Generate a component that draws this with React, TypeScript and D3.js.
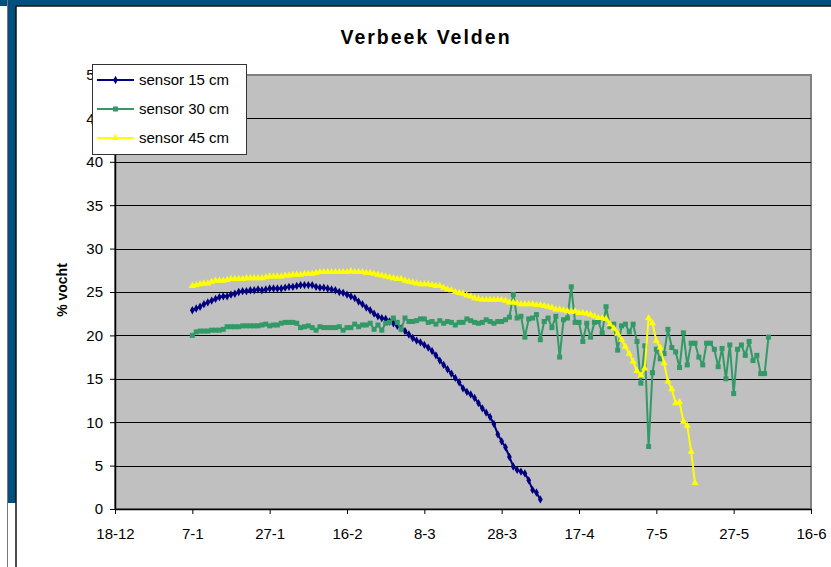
import React from 'react';
import * as d3 from 'd3';

// x axis: one tick every 20 days
const tickDates = ['2006-12-18', '2007-01-07', '2007-01-27', '2007-02-16', '2007-03-08',
  '2007-03-28', '2007-04-17', '2007-05-07', '2007-05-27', '2007-06-16'];
const yTicks = [0, 5, 10, 15, 20, 25, 30, 35, 40, 45, 50];

// all three sensors start on 7-1 and have one reading per day
const firstDay = '2007-01-07';

const sensor15 = [
  22.9, 23.1, 23.3, 23.6, 23.8, 24.0, 24.2, 24.4, 24.5, 24.5, 24.7, 24.8, 25.0, 25.1, 25.1,
  25.2, 25.2, 25.3, 25.2, 25.3, 25.4, 25.4, 25.4, 25.4, 25.5, 25.6, 25.6, 25.7, 25.8, 25.8,
  25.8, 25.8, 25.6, 25.5, 25.5, 25.4, 25.3, 25.2, 25.0, 24.9, 24.7, 24.5, 24.3, 23.9, 23.6,
  23.2, 22.9, 22.5, 22.2, 22.0, 21.9, 21.6, 21.4, 21.1, 20.8, 20.5, 20.1, 19.7, 19.4, 19.2,
  18.9, 18.6, 18.2, 17.7, 17.1, 16.6, 16.1, 15.6, 15.1, 14.6, 13.9, 13.5, 13.2, 12.8, 12.2,
  11.6, 11.1, 10.6, 9.8, 8.6, 7.8, 7.1, 6.0, 4.9, 4.5, 4.3, 4.1, 3.3, 2.2, 1.9, 1.1,
];

const sensor30 = [
  20.0, 20.4, 20.5, 20.5, 20.5, 20.6, 20.6, 20.6, 20.7, 21.0, 21.0, 21.0, 21.0, 21.1, 21.1,
  21.1, 21.1, 21.1, 21.2, 21.3, 21.1, 21.2, 21.2, 21.4, 21.5, 21.5, 21.5, 21.4, 20.9, 21.0,
  21.1, 20.9, 20.6, 21.0, 20.9, 20.9, 20.9, 20.9, 21.0, 20.6, 20.9, 20.9, 21.3, 21.0, 21.2,
  21.2, 21.4, 20.7, 21.2, 20.6, 21.4, 21.5, 22.0, 21.5, 20.7, 22.0, 21.6, 21.6, 21.7, 21.9,
  21.9, 21.5, 21.6, 21.3, 21.7, 21.4, 21.6, 21.5, 21.2, 21.5, 21.5, 21.9, 21.7, 21.5, 21.4,
  21.5, 21.8, 21.6, 21.4, 21.6, 21.6, 21.8, 22.1, 24.7, 22.0, 22.2, 19.8, 21.9, 22.0, 22.4,
  19.5, 21.6, 22.0, 20.9, 22.2, 17.5, 21.8, 22.0,
  25.6, 21.5, 21.5, 19.3, 21.4, 19.8, 21.5, 21.6, 20.3, 23.3, 21.0, 21.3, 18.3, 21.1, 21.3,
  20.4, 21.3, 19.3, 14.5, 18.8, 7.2, 15.7, 18.4, 17.3, 17.9, 20.7, 18.6, 18.1, 16.3, 20.3,
  16.6, 19.1, 19.1, 17.5, 16.6, 19.1, 19.1, 18.4, 16.4, 18.5, 15.0, 18.9, 13.3, 18.4, 18.9,
  17.7, 19.3, 17.1, 17.7, 15.6, 15.6, 19.8,
];

const sensor45 = [
  25.7, 25.8, 25.9, 26.0, 26.0, 26.2, 26.3, 26.3, 26.3, 26.4, 26.5, 26.5, 26.5, 26.5, 26.6,
  26.6, 26.6, 26.6, 26.6, 26.7, 26.8, 26.8, 26.8, 26.8, 26.9, 26.9, 27.0, 27.0, 27.0, 27.1,
  27.1, 27.1, 27.2, 27.3, 27.3, 27.3, 27.3, 27.3, 27.3, 27.3, 27.3, 27.4, 27.3, 27.3, 27.3,
  27.2, 27.2, 27.1, 27.0, 26.9, 26.8, 26.7, 26.6, 26.5, 26.5, 26.3, 26.2, 26.1, 26.0, 25.9,
  25.9, 25.9, 25.8, 25.7, 25.7, 25.5, 25.3, 25.2, 25.0, 24.9, 24.8, 24.6, 24.5, 24.3, 24.2,
  24.1, 24.1, 24.1, 24.1, 24.1, 24.1, 24.0, 23.8, 23.8, 23.7, 23.6, 23.6, 23.6, 23.6, 23.5,
  23.5, 23.4, 23.3, 23.2, 23.0, 23.0, 22.9, 22.8,
  22.7, 22.8, 22.6, 22.6, 22.5, 22.4, 22.2, 22.0, 22.0, 21.9, 21.3, 20.8, 20.2, 19.5, 18.7,
  17.9, 17.0, 15.9, 15.4, 16.2, 22.0, 21.4, 19.4, 18.6, 16.8, 14.7, 13.8, 12.2, 12.3, 10.1,
  9.6, 6.6, 3.0,
];

const seriesNames = ['sensor 15 cm', 'sensor 30 cm', 'sensor 45 cm'];
const seriesColors = ['#000080', '#339966', '#ffff00'];
const seriesMarkers = ['diamond', 'square', 'triangle'];

const font = 'Arial, "Liberation Sans", sans-serif';

const App = () => {
  const svgRef = React.useRef(null);

  React.useEffect(() => {
    const svg = d3.select(svgRef.current);
    svg.selectAll('*').remove();

    const parse = d3.utcParse('%Y-%m-%d');
    const ticks = tickDates.map(parse);
    const start = parse(firstDay);

    const x = d3.scaleUtc()
      .domain([ticks[0], ticks[ticks.length - 1]])
      .range([115, 811]);
    const y = d3.scaleLinear().domain([0, 50]).range([509, 75]);

    // window frame
    svg.append('rect').attr('x', 0).attr('y', 0).attr('width', 831).attr('height', 6).attr('fill', '#004f7e');
    svg.append('line').attr('x1', 16).attr('x2', 831).attr('y1', 6).attr('y2', 6).attr('stroke', '#111').attr('stroke-width', 1.5);
    svg.append('rect').attr('x', 8).attr('y', 0).attr('width', 8).attr('height', 503).attr('fill', '#004f7e');
    svg.append('line').attr('x1', 7.5).attr('x2', 7.5).attr('y1', 0).attr('y2', 567).attr('stroke', '#777');
    svg.append('line').attr('x1', 16).attr('x2', 16).attr('y1', 6).attr('y2', 567).attr('stroke', '#111').attr('stroke-width', 1.5);

    // plot area
    svg.append('rect')
      .attr('x', x.range()[0]).attr('y', y(50))
      .attr('width', x.range()[1] - x.range()[0]).attr('height', y(0) - y(50))
      .attr('fill', '#c0c0c0')
      .attr('stroke', '#808080').attr('stroke-width', 2);

    svg.append('g')
      .selectAll('line')
      .data(yTicks.filter(t => t > 0 && t < 50))
      .join('line')
      .attr('x1', x.range()[0]).attr('x2', x.range()[1])
      .attr('y1', d => Math.round(y(d)) + 0.5).attr('y2', d => Math.round(y(d)) + 0.5)
      .attr('stroke', '#000').attr('stroke-width', 1);

    const yAxis = svg.append('g')
      .attr('transform', `translate(${x.range()[0]},0)`)
      .call(d3.axisLeft(y).tickValues(yTicks).tickSize(5).tickPadding(7).tickSizeOuter(0));
    yAxis.selectAll('text').style('font-size', '15px').style('font-family', font).attr('fill', '#000');
    yAxis.select('.domain').attr('stroke', '#000').attr('stroke-width', 1.5);

    const xAxis = svg.append('g')
      .attr('transform', `translate(0,${y(0)})`)
      .call(d3.axisBottom(x).tickValues(ticks).tickFormat(d3.utcFormat('%-d-%-m')).tickSize(5).tickPadding(14).tickSizeOuter(0));
    xAxis.selectAll('text').style('font-size', '15px').style('font-family', font).attr('fill', '#000');
    xAxis.select('.domain').attr('stroke', '#000').attr('stroke-width', 1.5);

    const marker = (g, kind, color) => {
      if (kind === 'square') {
        g.append('rect').attr('x', -2.5).attr('y', -2.5).attr('width', 5).attr('height', 5).attr('fill', color);
      } else {
        const type = kind === 'diamond' ? d3.symbolDiamond : d3.symbolTriangle;
        g.append('path').attr('d', d3.symbol(type, kind === 'diamond' ? 20 : 22)()).attr('fill', color);
      }
    };

    const line = d3.line().x(d => x(d.date)).y(d => y(d.value));

    [sensor15, sensor30, sensor45].forEach((values, i) => {
      const pts = values.map((v, k) => ({ date: d3.utcDay.offset(start, k), value: v }));
      svg.append('path')
        .datum(pts)
        .attr('d', line)
        .attr('fill', 'none')
        .attr('stroke', seriesColors[i])
        .attr('stroke-width', 2)
        .attr('stroke-linejoin', 'round');
      svg.append('g')
        .selectAll('g')
        .data(pts)
        .join('g')
        .attr('transform', d => `translate(${x(d.date)},${y(d.value)})`)
        .each(function () { marker(d3.select(this), seriesMarkers[i], seriesColors[i]); });
    });

    // legend
    const legend = svg.append('g');
    legend.append('rect')
      .attr('x', 92.5).attr('y', 64.5).attr('width', 154).attr('height', 90)
      .attr('fill', '#fff').attr('stroke', '#333').attr('stroke-width', 1);
    seriesNames.forEach((name, i) => {
      const cy = 80 + i * 29;
      legend.append('line').attr('x1', 97).attr('x2', 134).attr('y1', cy).attr('y2', cy)
        .attr('stroke', seriesColors[i]).attr('stroke-width', 2);
      marker(legend.append('g').attr('transform', `translate(115.5,${cy})`), seriesMarkers[i], seriesColors[i]);
      legend.append('text').attr('x', 139).attr('y', cy).attr('dy', '0.36em')
        .style('font-size', '15px').style('font-family', font).text(name);
    });

    svg.append('text')
      .attr('x', 426).attr('y', 44)
      .attr('text-anchor', 'middle')
      .style('font-size', '19.5px').style('font-weight', 'bold').style('font-family', font)
      .style('letter-spacing', '2px')
      .text('Verbeek Velden');

    svg.append('text')
      .attr('transform', 'translate(67,290) rotate(-90)')
      .attr('text-anchor', 'middle')
      .style('font-size', '14px').style('font-weight', 'bold').style('font-family', font)
      .text('% vocht');
  }, []);

  return (
    <svg
      ref={svgRef}
      width={831}
      height={567}
      style={{ position: 'absolute', left: 0, top: 0, background: '#fff' }}
    />
  );
};

export default App;
